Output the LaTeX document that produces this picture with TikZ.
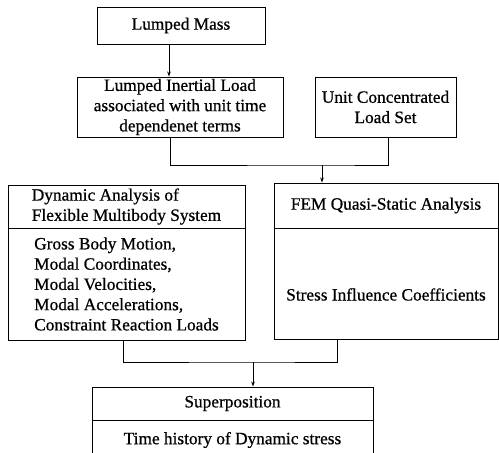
\documentclass[tikz,border=0pt]{standalone}
\usepackage{fontspec}
\setmainfont{Liberation Serif}
\newfontfamily\scanfont{Liberation Serif}[FakeBold=0.7]
\usetikzlibrary{arrows.meta}
\begin{document}
\begin{tikzpicture}[x=1pt, y=-1pt, line width=0.9pt,
            box/.style = {shape=rectangle, draw, align=center, inner sep=0pt,
                          font=\fontsize{17.3}{20.25}\selectfont\scanfont},
            leftbox/.style = {box, align=left},
            arr/.style = {-{Stealth[length=5pt,width=3.5pt]}}]
    \useasboundingbox (0,0) rectangle (499,453);
    \clip (0,0) rectangle (499,453);
    % top row
    \node[box, minimum width=168pt, minimum height=37pt] (mass) at (181,25.5) {Lumped Mass};
    \node[box, minimum width=206pt, minimum height=60pt] (inertial) at (180,107)
        {Lumped Inertial Load\\associated with unit time\\dependenet terms};
    \node[box, minimum width=141pt, minimum height=60pt] (unit) at (385.5,107)
        {Unit Concentrated\\Load Set};
    % analysis boxes
    \node[leftbox, minimum width=237pt, minimum height=43pt] (dynhead) at (126.5,206.5)
        {Dynamic Analysis of\\Flexible Multibody System};
    \node[leftbox, minimum width=237pt, minimum height=112pt] (dynbody) at (126.5,284)
        {Gross Body Motion,\\Modal Coordinates,\\Modal Velocities,\\Modal Accelerations,\\Constraint Reaction Loads};
    \node[box, minimum width=224pt, minimum height=45pt] (femhead) at (386,205.5)
        {FEM Quasi-Static Analysis};
    \node[box, minimum width=224pt, minimum height=111pt] (fembody) at (386,283.5)
        {\smash{\raisebox{-17pt}{Stress Influence Coefficients}}};
    % result
    \node[box, minimum width=281pt, minimum height=33pt] (superhead) at (232.5,403.5)
        {Superposition};
    \node[box, minimum width=281pt, minimum height=40pt] (superbody) at (232.5,440)
        {Time history of Dynamic stress};
    % connectors
    \draw[arr] ([xshift=-12pt]mass.south) -- ([xshift=-12pt]mass.south |- inertial.north);
    \coordinate (join1) at (322,165);
    \draw ([xshift=-10pt]inertial.south) |- (join1) -| ([xshift=2.5pt]unit.south);
    \draw[arr] (join1) -- (join1 |- femhead.north);
    \coordinate (join2) at (253,362);
    \draw ([xshift=-3pt]dynbody.south) |- (join2) -| ([xshift=-49pt]fembody.south);
    \draw[arr] (join2) -- (join2 |- superhead.north);
\end{tikzpicture}
\end{document}
